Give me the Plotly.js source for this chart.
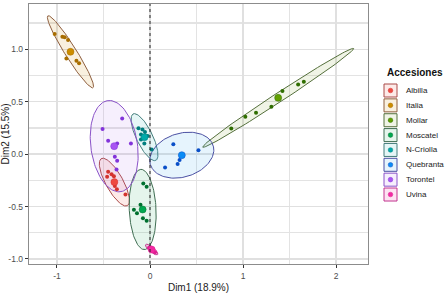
<!DOCTYPE html>
<html><head><meta charset="utf-8">
<script src="https://cdn.plot.ly/plotly-3.0.1.min.js"></script>
<style>html,body{margin:0;padding:0;background:#fff}#chart{width:447px;height:293px}</style>
</head><body><div id="chart"></div>
<script>
// ---- data ----
const groups = ['Albilla','Italia','Mollar','Moscatel','N-Criolla','Quebranta','Torontel','Uvina'];
const ptsX = [
  [-0.450,-0.413,-0.388,-0.461,-0.378,-0.356,-0.264],
  [-1.025,-0.942,-0.917,-0.881,-0.899,-0.791,-0.763],
  [0.874,1.025,1.140,1.305,1.424,1.593,1.654],
  [-0.072,-0.036,-0.102,-0.173,-0.140,-0.076,-0.036],
  [-0.124,-0.081,-0.054,-0.097,-0.025,-0.097,-0.061,0.018],
  [0.251,0.521,0.318,0.297,0.162],
  [-0.299,-0.510,-0.450,-0.353,-0.205,-0.378,-0.353,-0.360],
  [-0.011,0.000,0.032,0.054]
];
const ptsY = [
  [-0.169,-0.191,-0.210,-0.215,-0.305,-0.334,-0.385],
  [1.145,1.119,1.114,1.088,0.913,0.890,0.866],
  [0.245,0.356,0.394,0.451,0.601,0.665,0.690],
  [-0.281,-0.312,-0.482,-0.531,-0.563,-0.611,-0.635],
  [0.248,0.236,0.210,0.188,0.172,0.140,0.102,0.045],
  [0.095,0.038,-0.057,-0.095,-0.127],
  [0.341,0.239,0.127,0.102,0.102,-0.026,-0.062,-0.146],
  [-0.892,-0.897,-0.920,-0.937]
];
const meanX = [-0.383,-0.855,1.378,-0.079,-0.059,0.342,-0.385,0.018];
const meanY = [-0.267,0.976,0.537,-0.528,0.162,-0.010,0.076,-0.910];
// confidence ellipse parameters (semi-axes in data units, angle in degrees)
const ellA = [0.265,0.420,0.938,0.383,0.253,0.350,0.440,0.080];
const ellB = [0.090,0.060,0.045,0.144,0.085,0.210,0.250,0.025];
const ellAngle = [122.7,125.4,30.1,93,119.4,13,100,-36];
const xTickVals = [-1,0,1,2];
const xTickText = ['-1','0','1','2'];
const yTickVals = [-1,-0.5,0,0.5,1];
const yTickText = ['-1.0','-0.5','0.0','0.5','1.0'];
const xTitle = 'Dim1 (18.9%)';
const yTitle = 'Dim2 (15.5%)';
const legendTitle = 'Accesiones';

// ---- styles ----
const meanCol  = ['#EE4A42','#CC8D00','#62A000','#00A84F','#00AAAA','#0A8CF5','#A855F2','#F22AA2'];
const ptCol    = ['#D4332E','#A86D00','#2F6E00','#00702F','#007E7E','#0A4FC8','#8233DA','#E01E92'];
const lineCol  = ['#AA4A48','#8E5E3E','#55703C','#3F6D52','#437D7B','#4A4FA2','#8A52C8','#C2348F'];
const fillCol  = ['rgba(240,90,80,0.13)','rgba(215,155,40,0.15)','rgba(140,170,60,0.13)','rgba(40,170,100,0.12)',
                  'rgba(40,180,180,0.12)','rgba(60,170,240,0.13)','rgba(175,110,240,0.11)','rgba(240,60,170,0.15)'];

const traces = [];
groups.forEach((g,i)=>{
  const th = ellAngle[i]*Math.PI/180, ex=[], ey=[];
  for(let k=0;k<=120;k++){
    const t = 2*Math.PI*k/120;
    ex.push(meanX[i] + ellA[i]*Math.cos(t)*Math.cos(th) - ellB[i]*Math.sin(t)*Math.sin(th));
    ey.push(meanY[i] + ellA[i]*Math.cos(t)*Math.sin(th) + ellB[i]*Math.sin(t)*Math.cos(th));
  }
  traces.push({x:ex,y:ey,type:'scatter',mode:'lines',fill:'toself',fillcolor:fillCol[i],
    line:{color:lineCol[i],width:1},showlegend:false,hoverinfo:'skip'});
});
groups.forEach((g,i)=>{
  traces.push({x:ptsX[i],y:ptsY[i],type:'scatter',mode:'markers',
    marker:{color:ptCol[i],size:4},showlegend:false,hoverinfo:'skip'});
});
groups.forEach((g,i)=>{
  traces.push({x:[meanX[i]],y:[meanY[i]],type:'scatter',mode:'markers',
    marker:{color:meanCol[i],size:7,line:{color:ptCol[i],width:0.5}},showlegend:false,hoverinfo:'skip'});
});

// manual legend (paper coords; plot area 29..368 x 4..264 px)
const L=29,R=368,T=4,B=264;
const px2x = p => (p-L)/(R-L), py2y = p => (B-p)/(B-T);
const shapes = [
  {type:'line',xref:'x',yref:'paper',x0:0,x1:0,y0:0,y1:1,line:{color:'#222',width:1,dash:'dot'},layer:'above'},
  {type:'line',xref:'paper',yref:'y',x0:0,x1:1,y0:0,y1:0,line:{color:'#7a7a7a',width:1.2,dash:'3px,2.5px'},layer:'below'}
];
const annotations = [{xref:'paper',yref:'paper',x:px2x(385),y:py2y(73),xanchor:'left',yanchor:'middle',
  text:'<b>'+legendTitle+'</b>',showarrow:false,font:{family:'Arial, Liberation Sans',size:10,color:'#111'}}];
groups.forEach((g,i)=>{
  const cy = 90.5 + i*14.86;
  shapes.push({type:'rect',xref:'paper',yref:'paper',x0:px2x(384),x1:px2x(397),y0:py2y(cy-6.5),y1:py2y(cy+6.5),
    line:{color:lineCol[i],width:1},fillcolor:fillCol[i]});
  shapes.push({type:'circle',xref:'paper',yref:'paper',x0:px2x(388.2),x1:px2x(392.8),y0:py2y(cy-2.3),y1:py2y(cy+2.3),
    line:{color:ptCol[i],width:0.5},fillcolor:meanCol[i]});
  annotations.push({xref:'paper',yref:'paper',x:px2x(404),y:py2y(cy),xanchor:'left',yanchor:'middle',
    text:g,showarrow:false,font:{family:'Arial, Liberation Sans',size:8,color:'#1a1a1a'}});
});

const axCommon = {showline:true,mirror:true,linecolor:'#8c8c8c',linewidth:1.3,
  ticks:'outside',ticklen:3,tickcolor:'#333',tickwidth:1,
  tickfont:{family:'Arial, Liberation Sans',size:8.5,color:'#4d4d4d'},
  showgrid:true,gridcolor:'#e0e0e0',gridwidth:1.3,zeroline:false};
const layout = {
  width:447,height:293,margin:{l:29,r:79,t:4,b:29},
  paper_bgcolor:'#fff',plot_bgcolor:'#fff',showlegend:false,
  xaxis:Object.assign({},axCommon,{range:[-1.301,2.344],tickvals:xTickVals,ticktext:xTickText,
    minor:{dtick:0.5,tick0:0,showgrid:true,gridcolor:'#e3e3e3',gridwidth:1.3,ticks:''},
    title:{text:xTitle,standoff:4,font:{family:'Arial, Liberation Sans',size:10,color:'#222'}}}),
  yaxis:Object.assign({},axCommon,{range:[-1.048,1.432],tickvals:yTickVals,ticktext:yTickText,
    minor:{dtick:0.25,tick0:0,showgrid:true,gridcolor:'#e3e3e3',gridwidth:1.3,ticks:''},
    title:{text:yTitle,standoff:2,font:{family:'Arial, Liberation Sans',size:10,color:'#222'}}}),
  shapes:shapes,annotations:annotations
};
Plotly.newPlot('chart',traces,layout,{staticPlot:true,displayModeBar:false});
</script></body></html>
